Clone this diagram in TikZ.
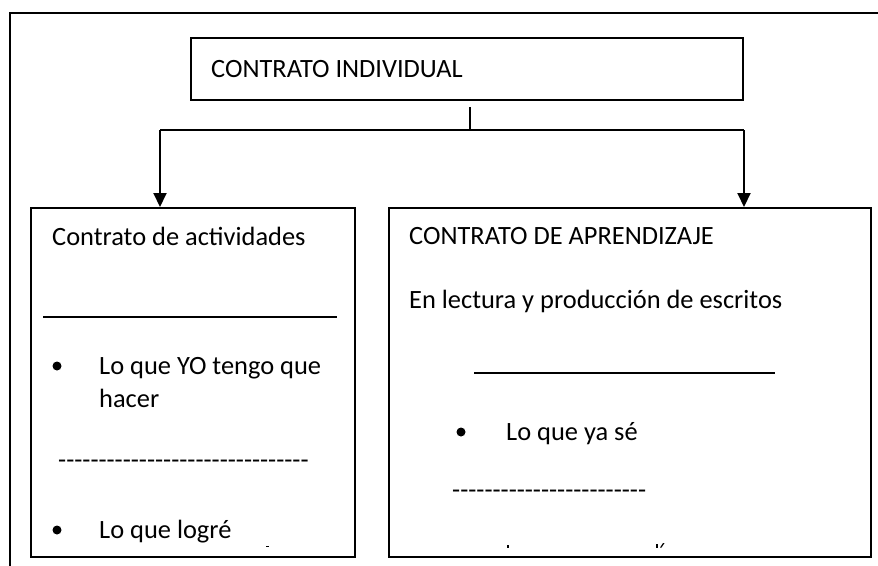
\documentclass[tikz,border=0pt]{standalone}
\usepackage{fontspec}
\setmainfont{Carlito}[Ligatures=TeXOff]
\usetikzlibrary{arrows.meta}
\begin{document}
\begin{tikzpicture}[x=1pt,y=-1pt,
  txt/.style={anchor=base west,inner sep=0pt,font=\fontsize{26.4}{32}\selectfont},
  boxnode/.style={draw,line width=1.5pt,anchor=north west,inner sep=0pt},
  conn/.style={line width=1.7pt},
  arr/.style={line width=2pt,-{Triangle[width=13pt,length=14pt]}},
  bul/.style={circle,fill=black,inner sep=0pt,minimum size=9pt}]
\useasboundingbox (0,0) rectangle (878,565);
% outer frame (only left and top visible)
\draw[line width=2.2pt] (10,580) -- (10,13) -- (890,13);
% top box
\node[boxnode,line width=1.8pt,minimum width=552pt,minimum height=62pt] (top) at (190,37) {};
\node[txt] (toptxt) at (211,77) {CONTRATO INDIVIDUAL};
% left and right boxes
\node[boxnode,minimum width=324pt,minimum height=349pt] (left) at (30,207) {};
\node[boxnode,minimum width=482pt,minimum height=349pt] (right) at (388,207) {};
% connectors
\coordinate (s) at (470,107);
\coordinate (j) at (470,130);
\coordinate (jl) at (160,130);
\coordinate (jr) at (744,130);
\draw[conn] (s) -- (j);
\draw[conn] (jl) -- (jr);
\draw[arr] (jl) -- (jl |- left.north);
\draw[arr] (jr) -- (jr |- right.north);
% left box contents
\node[txt] (l1) at (52,245) {Contrato de actividades};
\coordinate (la) at (43,317);
\coordinate (lb) at (337,317);
\draw[line width=1.7pt] (la) -- (lb);
\node[bul] (lb1) at (57,366) {};
\node[txt] (l2) at (99,374) {Lo que YO tengo que};
\node[txt] (l3) at (99,407) {hacer};
\node[txt] (l4) at (58,468) {-------------------------------};
\node[bul] (lb2) at (57,530) {};
\node[txt] (l5) at (99,538) {Lo que logré};
\fill (266,545.5) rectangle (268.5,547);
% right box contents
\node[txt] (r1) at (409,244) {CONTRATO DE APRENDIZAJE};
\node[txt] (r2) at (409,308) {En lectura y producción de escritos};
\coordinate (ra) at (474,373);
\coordinate (rb) at (775,373);
\draw[line width=1.7pt] (ra) -- (rb);
\node[bul] (rb1) at (461,432) {};
\node[txt] (r3) at (506,440) {Lo que ya sé};
\node[txt] (r4) at (452,498) {------------------------};
\fill (507,545) rectangle (509,548);
\fill (655.5,544) rectangle (657.5,548);
\fill (660,547.5) -- (661.5,547.5) -- (664.5,543) -- (663,543) -- cycle;
\end{tikzpicture}
\end{document}
